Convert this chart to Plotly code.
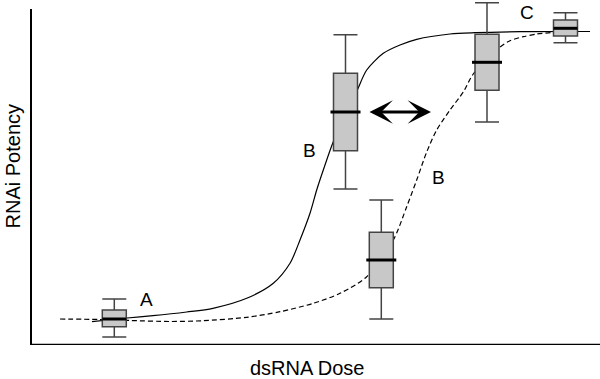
import plotly.graph_objects as go

# ---- data (arbitrary dose / potency units) ----
box_labels = ["A", "B", "B2", "C1", "C2"]
box_pos = [83.3, 314.5, 350.3, 456.0, 534.5]
box_q1 = [18.3, 194.3, 57.3, 254.7, 309.0]
box_median = [26.0, 233.0, 85.0, 282.7, 316.7]
box_q3 = [35.0, 271.7, 112.7, 310.7, 325.0]
box_low = [8.0, 156.0, 26.0, 223.0, 302.3]
box_high = [46.0, 310.3, 145.0, 342.3, 332.3]

solid_x = [61, 96, 122, 155.7, 182, 215.7, 242.3, 259, 269, 279, 285.7, 292.3,
           302.3, 326.3, 335.7, 352.3, 369, 385.7, 419, 444, 489, 559]
solid_y = [23.3, 27, 29.3, 33, 36.7, 46.7, 61.7, 81.7, 105, 131.7, 155, 175,
           203.3, 255, 275, 291.7, 300, 305.7, 311, 312.3, 313.3, 313.5]

dashed_x = [29, 69, 99, 139, 172, 215.7, 249, 282.3, 309, 335.7, 362.3, 375.7,
            385.7, 395.7, 405.7, 419, 432.3, 442.3, 468, 479, 492.3, 505.7, 522.3, 534]
dashed_y = [26, 25.5, 24.5, 23.5, 24.3, 27.7, 33.3, 41.7, 51.7, 68.3, 105, 138.3,
            165, 193, 215, 235, 253, 271, 297, 304.3, 308.3, 311, 312.7, 315]

text_labels = ["A", "B", "B", "C"]
text_x = [115.5, 278.2, 407.8, 496.0]
text_y = [45.5, 194.3, 168.0, 332.2]

arrow_x = [337, 400]
arrow_y = 233

x_title = "dsRNA Dose"
y_title = "RNAi Potency"

# ---- style ----
FONT = "Liberation Sans, Arial, sans-serif"
BOX_W = 24
MED_HW = [12, 15, 15, 15, 12]
X_RANGE = [0, 569]
Y_RANGE = [0, 343]

fig = go.Figure()

# curves on the base axes (drawn underneath)
fig.add_trace(go.Scatter(x=solid_x, y=solid_y, mode="lines",
                         line=dict(color="black", width=1.2, shape="spline", smoothing=0.8),
                         hoverinfo="skip", showlegend=False))
fig.add_trace(go.Scatter(x=dashed_x, y=dashed_y, mode="lines",
                         line=dict(color="black", width=1.2, dash="5px,3px",
                                   shape="spline", smoothing=0.8),
                         hoverinfo="skip", showlegend=False))

# boxes on overlaying axes so they cover the curves
fig.add_trace(go.Box(x=box_pos, q1=box_q1, median=box_median, q3=box_q3,
                     lowerfence=box_low, upperfence=box_high,
                     width=BOX_W, whiskerwidth=1, boxpoints=False,
                     fillcolor="#c8c8c8", line=dict(color="#444444", width=1.5),
                     showlegend=False, hoverinfo="skip",
                     xaxis="x2", yaxis="y2"))

mx, my = [], []
for p, m, hw in zip(box_pos, box_median, MED_HW):
    mx += [p - hw, p + hw, None]
    my += [m, m, None]
fig.add_trace(go.Scatter(x=mx, y=my, mode="lines",
                         line=dict(color="black", width=3),
                         hoverinfo="skip", showlegend=False,
                         xaxis="x2", yaxis="y2"))

for t, x, y in zip(text_labels, text_x, text_y):
    fig.add_annotation(x=x, y=y, text=t, showarrow=False,
                       xanchor="center", yanchor="middle",
                       font=dict(family=FONT, size=19, color="black"))

fig.add_annotation(x=arrow_x[1], y=arrow_y, ax=arrow_x[0], ay=arrow_y,
                   xref="x", yref="y", axref="x", ayref="y", text="",
                   showarrow=True, arrowhead=3, startarrowhead=3,
                   arrowside="end+start", arrowwidth=3, arrowsize=1.3,
                   startarrowsize=1.3, arrowcolor="black")

fig.add_annotation(x=0.486, y=-0.067, xref="paper", yref="paper", text=x_title,
                   xanchor="center", yanchor="middle",
                   showarrow=False, font=dict(family=FONT, size=20, color="black"))
fig.add_annotation(x=-0.0325, y=0.522, xref="paper", yref="paper", text=y_title,
                   xanchor="center", yanchor="middle",
                   textangle=-90, showarrow=False,
                   font=dict(family=FONT, size=20, color="black"))

# axis lines
fig.add_shape(type="line", xref="paper", yref="y", x0=0, x1=0, y0=0, y1=336,
              line=dict(color="black", width=2))
fig.add_shape(type="line", xref="paper", yref="y", x0=0, x1=1, y0=0, y1=0,
              line=dict(color="black", width=2.5))

axis_common = dict(showgrid=False, zeroline=False, showticklabels=False,
                   ticks="", showline=False, fixedrange=True)
fig.update_layout(
    width=600, height=379,
    margin=dict(l=31, r=0, t=2, b=34),
    paper_bgcolor="white", plot_bgcolor="white",
    xaxis=dict(range=X_RANGE, **axis_common),
    yaxis=dict(range=Y_RANGE, **axis_common),
    xaxis2=dict(range=X_RANGE, overlaying="x", **axis_common),
    yaxis2=dict(range=Y_RANGE, overlaying="y", **axis_common),
    boxmode="overlay",
)

fig.write_html("out.html", config={"displayModeBar": False},
               post_script="document.body.style.margin='0';")
